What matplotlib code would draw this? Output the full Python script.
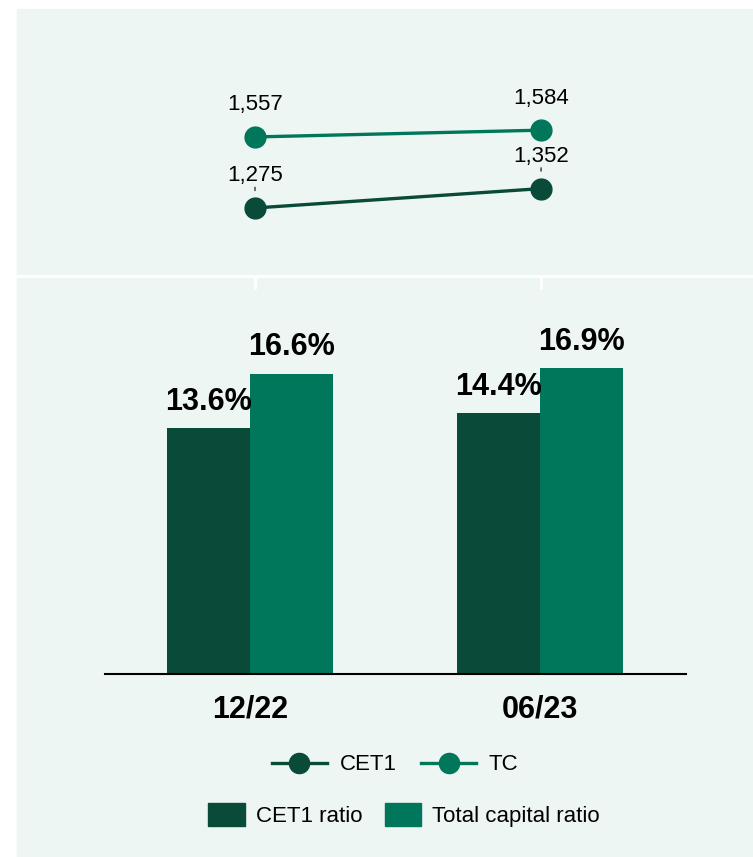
import matplotlib.pyplot as plt
from matplotlib.patches import Rectangle, Patch
from matplotlib.lines import Line2D

periods = ['12/22', '06/23']
cet1_ratio = [13.6, 14.4]
tc_ratio = [16.6, 16.9]
cet1_amt = [1275, 1352]
tc_amt = [1557, 1584]

dark = '#0A4A38'
green = '#00775A'
bg = '#EEF6F3'
font = ['Liberation Sans Narrow', 'Liberation Sans', 'DejaVu Sans']
plt.rcParams['font.family'] = font

W, H = 753, 857
fig = plt.figure(figsize=(W / 100, H / 100), dpi=100, facecolor='white')
fig.patches.append(Rectangle((17 / W, 0), 1 - 17 / W, (H - 9) / H,
                             transform=fig.transFigure, color=bg, zorder=-10))

def box(x0, y0, x1, y1):
    # pixel box (top-left origin) -> figure fraction
    return [x0 / W, (H - y1) / H, (x1 - x0) / W, (y1 - y0) / H]

# top: amounts
ax1 = fig.add_axes(box(17, 9, 753, 276))
ax1.set_facecolor('none')
xs = [0, 1]
ax1.plot(xs, tc_amt, color=green, lw=2.4, marker='o', ms=15, zorder=3)
ax1.plot(xs, cet1_amt, color=dark, lw=2.4, marker='o', ms=15, zorder=3)
for x, v in zip(xs, tc_amt):
    ax1.annotate(f'{v:,}', (x, v), xytext=(0, 15.5), textcoords='offset points',
                 ha='center', va='bottom', fontsize=16)
for x, v in zip(xs, cet1_amt):
    ax1.annotate(f'{v:,}', (x, v), xytext=(0, 15.5), textcoords='offset points',
                 ha='center', va='bottom', fontsize=16)
    # little leader tick under the label
    ax1.annotate('', (x, v), xytext=(0, 15), textcoords='offset points',
                 arrowprops=dict(arrowstyle='-', color='black', lw=0.8, shrinkA=0, shrinkB=12.5))
ax1.set_xlim(-0.832, 1.741)
ax1.set_ylim(1005, 2065)
for s in ['top', 'left', 'right']:
    ax1.spines[s].set_visible(False)
ax1.spines['bottom'].set_color('white')
ax1.spines['bottom'].set_linewidth(2)
ax1.set_xticks(xs)
ax1.set_xticklabels([])
ax1.tick_params(axis='x', colors='white', length=9, width=2)
ax1.set_yticks([])

# bottom: ratios
ax2 = fig.add_axes(box(105, 288, 686, 674))
ax2.set_facecolor('none')
w = 0.286
b1 = ax2.bar([x - w / 2 for x in xs], cet1_ratio, w, color=dark)
b2 = ax2.bar([x + w / 2 for x in xs], tc_ratio, w, color=green)
for bars in (b1, b2):
    for r in bars:
        ax2.annotate(f'{r.get_height():.1f}%', (r.get_x() + r.get_width() / 2, r.get_height()),
                     xytext=(0, 8), textcoords='offset points', ha='center', va='bottom',
                     fontsize=22, fontweight='bold')
ax2.set_xlim(-0.5, 1.503)
ax2.set_ylim(0, 21.33)
for s in ['top', 'left', 'right']:
    ax2.spines[s].set_visible(False)
ax2.spines['bottom'].set_linewidth(1.5)
ax2.set_yticks([])
ax2.set_xticks(xs)
ax2.set_xticklabels(periods, fontsize=22, fontweight='bold')
ax2.tick_params(axis='x', length=0, pad=15)

# legends
line_h = [Line2D([], [], color=dark, lw=2.4, marker='o', ms=14.5),
          Line2D([], [], color=green, lw=2.4, marker='o', ms=14.5)]
fig.legend(line_h, ['CET1', 'TC'], loc='center', bbox_to_anchor=(395 / W, 1 - 765 / H),
           ncol=2, frameon=False, fontsize=16, handlelength=2.5, handletextpad=0.55,
           columnspacing=1.1)
bar_h = [Patch(color=dark), Patch(color=green)]
fig.legend(bar_h, ['CET1 ratio', 'Total capital ratio'], loc='center',
           bbox_to_anchor=(404 / W, 1 - 815 / H), ncol=2, frameon=False, fontsize=16,
           handlelength=1.65, handleheight=1.25, handletextpad=0.5, columnspacing=1.0)

fig.savefig('out.png', dpi=100, facecolor='white')
